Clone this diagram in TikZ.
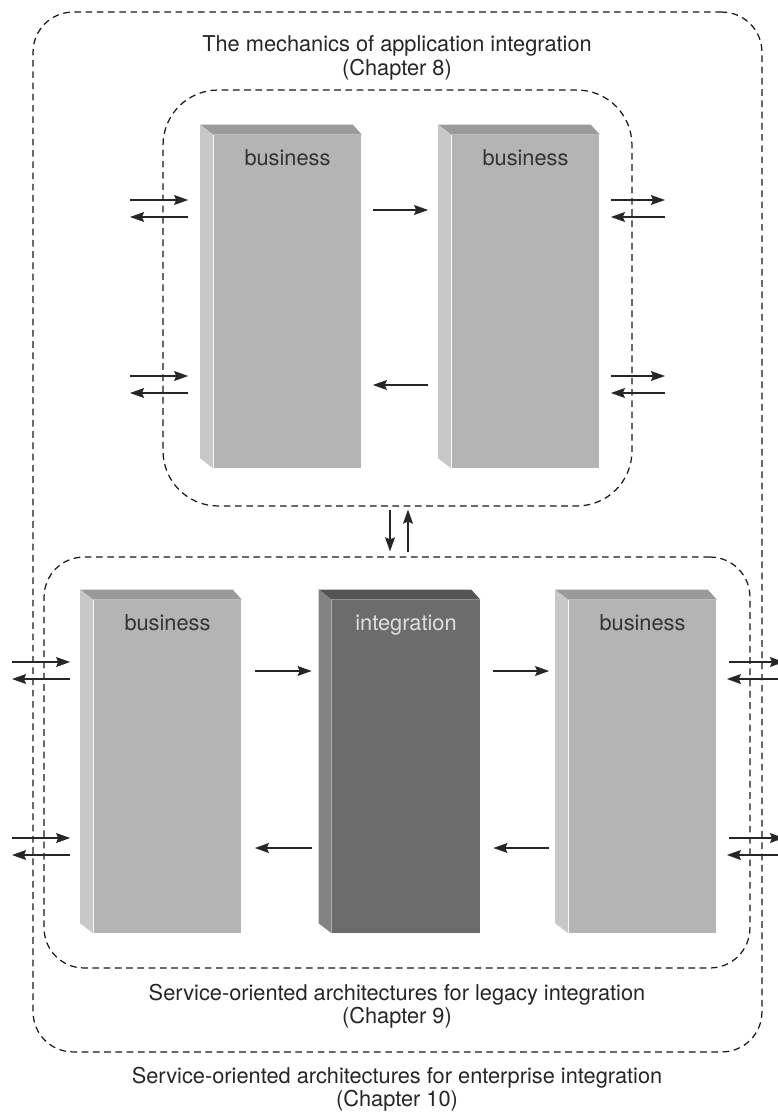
\documentclass[tikz,border=0pt]{standalone}
\usepackage{fontspec}
\setmainfont{TeX Gyre Heros}
\usepackage{tikz}
\usetikzlibrary{arrows.meta,positioning,calc}

\definecolor{bizfront}{HTML}{B4B4B4}
\definecolor{biztop}{HTML}{9A9A9A}
\definecolor{bizside}{HTML}{C8C8C8}
\definecolor{intfront}{HTML}{6C6C6C}
\definecolor{inttop}{HTML}{555555}
\definecolor{intside}{HTML}{838383}

\begin{document}
\begin{tikzpicture}[
  x=0.02cm, y=-0.02cm,
  >=Stealth,
  region/.style={draw=black!90, dashed, dash pattern=on 3.8pt off 2.6pt, line width=0.7pt, inner sep=0pt},
  slab/.style={inner sep=0pt, minimum width=2.96cm, minimum height=6.66cm},
  bizslab/.style={slab, fill=bizfront},
  intslab/.style={slab, fill=intfront},
  slabtext/.style={font=\fontsize{12.4}{14}\selectfont, inner sep=0pt, text height=9pt},
  caption/.style={align=center, font=\fontsize{12.4}{13.2}\selectfont, text=black!85},
  arrow/.style={-{Stealth[length=8pt, width=5.6pt, inset=1.2pt]}, line width=0.85pt, draw=black!85}
]
  \useasboundingbox (0,0) rectangle (777,1114);

  % Nested regions
  \node[region, rounded corners=0.8cm, minimum width=14.58cm, minimum height=20.8cm] (c10) at (397.5,532) {};
  \node[region, rounded corners=1.1cm, minimum width=9.38cm, minimum height=8.32cm] (c8) at (397.5,298) {};
  \node[region, rounded corners=0.8cm, minimum width=14.12cm, minimum height=8.22cm] (c9) at (397,762.5) {};

  % Captions
  \node[caption] (t8) at (397,58) {The mechanics of application integration\\(Chapter 8)};
  \node[caption] (t9) at (397,1006) {Service-oriented architectures for legacy integration\\(Chapter 9)};
  \node[caption] (t10) at (397,1089) {Service-oriented architectures for enterprise integration\\(Chapter 10)};

  % Slabs (front faces)
  \node[bizslab] (b1) at (287.5,301.5) {};
  \node[bizslab] (b2) at (525.5,301.5) {};
  \node[bizslab] (b3) at (167.5,766.5) {};
  \node[intslab] (bI) at (406,766.5) {};
  \node[bizslab] (b5) at (642.5,766.5) {};

  % Top and side faces
  \foreach \b/\c in {b1/biz, b2/biz, b3/biz, bI/int, b5/biz} {
    \fill[\c top] (\b.north west) -- ++(-13,-10) -- ($(\b.north east)+(-9,-10)$) -- (\b.north east) -- cycle;
    \fill[\c side] (\b.north west) -- ++(-13,-10) -- ($(\b.south west)+(-13,-10)$) -- (\b.south west) -- cycle;
  }

  % Slab labels
  \node[slabtext, text=black!80, below=0.3cm of b1.north] (l1) {business};
  \node[slabtext, text=black!80, below=0.3cm of b2.north] (l2) {business};
  \node[slabtext, text=black!80, below=0.3cm of b3.north] (l3) {business};
  \node[slabtext, text=gray!25, below=0.3cm of bI.north] (lI) {integration};
  \node[slabtext, text=black!80, below=0.3cm of b5.north] (l5) {business};

  % Free ends of outside connectors
  \coordinate (w1) at (130,200);
  \coordinate (w2) at (130,217);
  \coordinate (w3) at (130,376);
  \coordinate (w4) at (130,393);
  \coordinate (e1) at (665,200);
  \coordinate (e2) at (665,217);
  \coordinate (e3) at (665,376);
  \coordinate (e4) at (665,393);
  \coordinate (w5) at (12,662);
  \coordinate (w6) at (12,679);
  \coordinate (w7) at (12,838);
  \coordinate (w8) at (12,855);
  \coordinate (e5) at (784,662);
  \coordinate (e6) at (784,679);
  \coordinate (e7) at (784,838);
  \coordinate (e8) at (784,855);
  \coordinate (rowT) at (0,210);
  \coordinate (rowM) at (0,385);
  \coordinate (rowB) at (0,671);
  \coordinate (rowL) at (0,848);
  \coordinate (vdn) at (390,0);
  \coordinate (vup) at (408,0);

  % Connectors, chapter 8
  \draw[arrow, shorten >=0.5cm] (w1) -- (w1 -| b1.west);
  \draw[arrow, shorten <=0.5cm] (w2 -| b1.west) -- (w2);
  \draw[arrow, shorten >=0.5cm] (w3) -- (w3 -| b1.west);
  \draw[arrow, shorten <=0.5cm] (w4 -| b1.west) -- (w4);

  \draw[arrow, shorten <=0.22cm] (e1 -| b2.east) -- (e1);
  \draw[arrow, shorten >=0.22cm] (e2) -- (e2 -| b2.east);
  \draw[arrow, shorten <=0.22cm] (e3 -| b2.east) -- (e3);
  \draw[arrow, shorten >=0.22cm] (e4) -- (e4 -| b2.east);

  \draw[arrow, shorten <=0.22cm, shorten >=0.46cm] (b1.east |- rowT) -- (b2.west |- rowT);
  \draw[arrow, shorten <=0.46cm, shorten >=0.22cm] (b2.west |- rowM) -- (b1.east |- rowM);

  % Between the regions
  \draw[arrow, shorten <=0.06cm, shorten >=0.1cm] (c8.south -| vdn) -- (c9.north -| vdn);
  \draw[arrow, shorten <=0.08cm, shorten >=0.06cm] (c9.north -| vup) -- (c8.south -| vup);

  % Connectors, chapter 9
  \draw[arrow, shorten >=0.46cm] (w5) -- (w5 -| b3.west);
  \draw[arrow, shorten <=0.46cm] (w6 -| b3.west) -- (w6);
  \draw[arrow, shorten >=0.46cm] (w7) -- (w7 -| b3.west);
  \draw[arrow, shorten <=0.46cm] (w8 -| b3.west) -- (w8);

  \draw[arrow, shorten <=0.24cm] (e5 -| b5.east) -- (e5);
  \draw[arrow, shorten >=0.2cm] (e6) -- (e6 -| b5.east);
  \draw[arrow, shorten <=0.24cm] (e7 -| b5.east) -- (e7);
  \draw[arrow, shorten >=0.2cm] (e8) -- (e8 -| b5.east);

  \draw[arrow, shorten <=0.26cm, shorten >=0.4cm] (b3.east |- rowB) -- (bI.west |- rowB);
  \draw[arrow, shorten <=0.26cm, shorten >=0.38cm] (bI.east |- rowB) -- (b5.west |- rowB);
  \draw[arrow, shorten <=0.38cm, shorten >=0.26cm] (b5.west |- rowL) -- (bI.east |- rowL);
  \draw[arrow, shorten <=0.4cm, shorten >=0.26cm] (bI.west |- rowL) -- (b3.east |- rowL);

\end{tikzpicture}
\end{document}
